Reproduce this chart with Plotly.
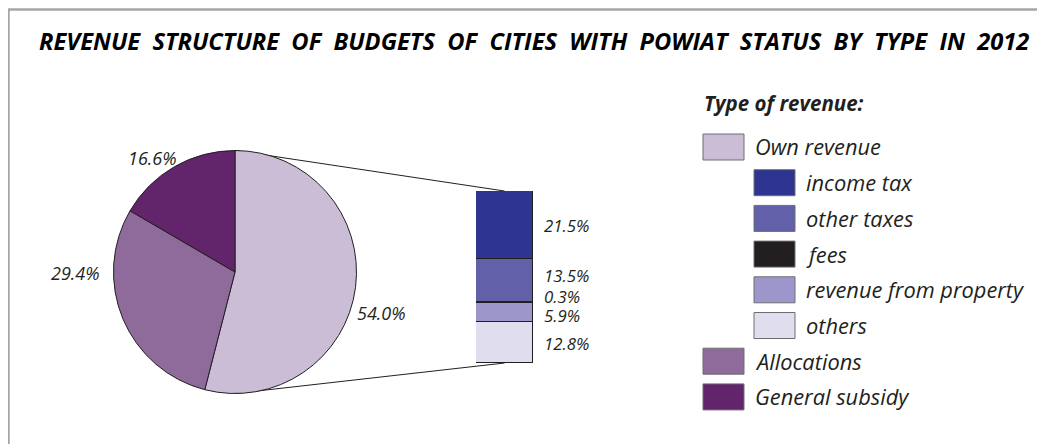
import plotly.graph_objects as go

# ---------------- data ----------------
title_text = "REVENUE  STRUCTURE  OF  BUDGETS  OF  CITIES  WITH  POWIAT  STATUS  BY  TYPE  IN  2012"
legend_title = "Type of revenue:"

main_labels = ["Own revenue", "Allocations", "General subsidy"]
main_values = [54.0, 29.4, 16.6]
main_colors = ["#CBBDD6", "#8E6B9A", "#62246B"]

sub_labels = ["income tax", "other taxes", "fees", "revenue from property", "others"]
sub_values = [21.5, 13.5, 0.3, 5.9, 12.8]
sub_colors = ["#2E3590", "#6160A8", "#231F20", "#9D96CA", "#E0DDEE"]

# ---------------- layout helpers ----------------
# the page body has an 8px margin; coordinates below are screen pixels
OFF = 8
W, H = 1037, 436
def px(x):
    return (x - OFF) / W
def py(y):
    return 1 - (y - OFF) / H

INK = "#231F20"
FONT = "Open Sans"

pie_cx, pie_cy, pie_r = 235, 272, 121.5
bar_x0, bar_x1, bar_top, bar_bot = 476, 533, 191, 363

fig = go.Figure()

fig.add_trace(go.Pie(
    labels=main_labels, values=main_values,
    marker=dict(colors=main_colors, line=dict(color=INK, width=1)),
    sort=False, direction="clockwise", rotation=0,
    textinfo="none", showlegend=False,
    domain=dict(x=[px(pie_cx - pie_r), px(pie_cx + pie_r)],
                y=[py(pie_cy + pie_r), py(pie_cy - pie_r)]),
))

# stacked bar: bottom segment first
for lab, val, col in reversed(list(zip(sub_labels, sub_values, sub_colors))):
    fig.add_trace(go.Bar(
        x=[0], y=[val], name=lab, width=1,
        marker=dict(color=col, line=dict(color=INK, width=1)),
        showlegend=False,
    ))

total_sub = sum(sub_values)

annotations = []
shapes = []

# title
annotations.append(dict(
    text=title_text, xref="paper", yref="paper", x=px(533.5), y=py(41),
    xanchor="center", yanchor="middle", showarrow=False,
    font=dict(family=FONT, size=23.7, color="#000000", weight="bold", style="italic"),
))

# pie labels
pie_label_pos = [(381, 313), (75, 273), (152, 158)]
for val, (lx, ly) in zip(main_values, pie_label_pos):
    annotations.append(dict(
        text=f"{val:.1f}%", xref="paper", yref="paper", x=px(lx), y=py(ly),
        xanchor="center", yanchor="middle", showarrow=False,
        font=dict(family=FONT, size=18, color=INK, style="italic"),
    ))

# bar labels
bar_label_yshift = [0, 5, 6, -3, -1]
cum = total_sub
for val, ys in zip(sub_values, bar_label_yshift):
    mid = cum - val / 2
    cum -= val
    annotations.append(dict(
        text=f"{val:.1f}%", xref="x", yref="y", x=0.5, y=mid,
        xanchor="left", yanchor="middle", xshift=9, yshift=ys, showarrow=False,
        font=dict(family=FONT, size=16.8, color=INK, style="italic"),
    ))

# leader for the tiny segment
fees_mid = total_sub - sum(sub_values[:2]) - sub_values[2] / 2
shapes.append(dict(
    type="line", xref="x", yref="y", xsizemode="pixel", ysizemode="pixel",
    xanchor=0.5, yanchor=fees_mid, x0=0, x1=8, y0=0, y1=5,
    line=dict(color=INK, width=1),
))

# connectors pie -> bar
bar_mid_x = (bar_x0 + bar_x1) / 2
shapes.append(dict(type="line", xref="paper", yref="paper", layer="below",
                   x0=px(pie_cx), y0=py(pie_cy - pie_r), x1=px(bar_mid_x), y1=py(bar_top),
                   line=dict(color=INK, width=1)))
shapes.append(dict(type="line", xref="paper", yref="paper", layer="below",
                   x0=px(pie_cx), y0=py(pie_cy + pie_r), x1=px(bar_mid_x), y1=py(bar_bot),
                   line=dict(color=INK, width=1)))

# frame
shapes.append(dict(type="path", xref="paper", yref="paper",
                   path=f"M {px(8.5)} {py(H + 20)} L {px(8.5)} {py(9.5)} L {px(W + 20)} {py(9.5)}",
                   line=dict(color="#A6A6A6", width=2.5)))

# manual legend
annotations.append(dict(
    text=legend_title, xref="paper", yref="paper", x=px(702), y=py(103),
    xanchor="left", yanchor="middle", showarrow=False,
    font=dict(family=FONT, size=20.5, color=INK, weight="bold", style="italic"),
))
legend_rows = ([(main_labels[0], main_colors[0], 0)] +
               [(l, c, 1) for l, c in zip(sub_labels, sub_colors)] +
               [(l, c, 0) for l, c in zip(main_labels[1:], main_colors[1:])])
row_y0, row_step = 147, 35.7
box_w, box_h = 41, 26
for i, (lab, col, lvl) in enumerate(legend_rows):
    cy = row_y0 + i * row_step
    bx = 703 + lvl * 51
    shapes.append(dict(type="rect", xref="paper", yref="paper",
                       x0=px(bx), x1=px(bx + box_w), y0=py(cy + box_h / 2), y1=py(cy - box_h / 2),
                       fillcolor=col, line=dict(color="#6D6E71", width=1)))
    annotations.append(dict(
        text=lab, xref="paper", yref="paper", x=px(bx + box_w + 9), y=py(cy),
        xanchor="left", yanchor="middle", showarrow=False,
        font=dict(family=FONT, size=21.8, color=INK, style="italic"),
    ))

fig.update_layout(
    width=W, height=H,
    margin=dict(l=0, r=0, t=0, b=0),
    paper_bgcolor="white", plot_bgcolor="white",
    barmode="stack", bargap=0,
    xaxis=dict(domain=[px(bar_x0), px(bar_x1)], range=[-0.5, 0.5], visible=False, fixedrange=True),
    yaxis=dict(domain=[py(bar_bot), py(bar_top)], range=[0, total_sub], visible=False, fixedrange=True),
    annotations=annotations, shapes=shapes,
    font=dict(family=FONT, color=INK),
)

fig.write_html("out.html")
